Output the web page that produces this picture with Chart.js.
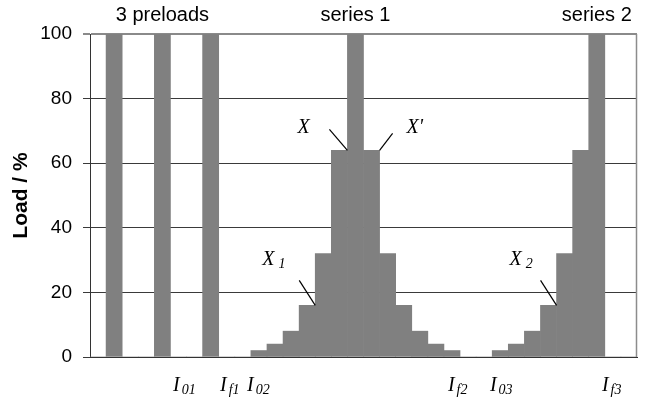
<!DOCTYPE html>
<html>
<head>
<meta charset="utf-8">
<script src="https://cdn.jsdelivr.net/npm/chart.js@4/dist/chart.umd.min.js"></script>
<style>
  html, body { margin: 0; padding: 0; background: #fff; }
  #wrap { width: 646px; height: 401px; }
</style>
</head>
<body>
<div id="wrap"><canvas id="grafico"></canvas></div>
<script>
// slot values (% load), one per slot along the x axis
const loadValues = [0, 100, 0, 0, 100, 0, 0, 100, 0, 0,
  2, 4, 8, 16, 32, 64, 100, 64, 32, 16, 8, 4, 2, 0, 0,
  2, 4, 8, 16, 32, 64, 100, 0, 0];
const slots = loadValues.map((v, i) => String(i));
const yTicks = [0, 20, 40, 60, 80, 100];

// group headers above the plot, at a slot index
const groupNames = ['3 preloads', 'series 1', 'series 2'];
const groupSlots = [4, 16, 31];

// current labels under the axis: main letter, subscript, slot position
const currentMain = ['I', 'I', 'I', 'I', 'I', 'I'];
const currentSub = ['01', 'f1', '02', 'f2', '03', 'f3'];
const currentAt = [4.66, 7.58, 9.26, 21.75, 24.36, 31.32];

// point names: text, subscript, slot whose right top corner is marked
const pointNames = ['X', "X'", 'X', 'X'];
const pointSubs = ['', '', '1', '2'];
const pointSlots = [15, 17, 13, 28];

(() => {
  const serif = '"Liberation Serif", "Times New Roman", serif';
  const sans = '"Liberation Sans", Arial, sans-serif';

  // pixel offsets of leader start and text, relative to the marked corner
  const leadOff = [[-18, -21], [13, -17], [-16, -25], [-16, -25]];
  const textOff = [[-50, -17], [27, -17], [-53, -40], [-47, -40]];

  const extras = {
    id: 'extras',
    afterDraw(chart) {
      const ctx = chart.ctx;
      const x = chart.scales.x;
      const y = chart.scales.y;
      const area = chart.chartArea;
      const half = x.width / slots.length / 2;
      ctx.save();

      // right frame
      ctx.strokeStyle = '#8c8c8c';
      ctx.lineWidth = 1.5;
      ctx.beginPath();
      ctx.moveTo(area.right - 0.5, area.top);
      ctx.lineTo(area.right - 0.5, area.bottom);
      ctx.stroke();

      // group headers
      ctx.fillStyle = '#000';
      ctx.font = '20px ' + sans;
      ctx.textAlign = 'center';
      ctx.textBaseline = 'alphabetic';
      groupNames.forEach((t, i) => {
        ctx.fillText(t, x.getPixelForValue(groupSlots[i]), 21);
      });

      // currents under the axis
      ctx.textAlign = 'left';
      currentMain.forEach((t, i) => {
        const px = x.getPixelForValue(currentAt[i]);
        ctx.font = 'italic 20px ' + serif;
        ctx.fillText(t, px, 391);
        const w = ctx.measureText(t).width;
        ctx.font = 'italic 14px ' + serif;
        ctx.fillText(currentSub[i], px + w + 2, 394);
      });

      // point names with leader lines
      ctx.strokeStyle = '#000';
      ctx.lineWidth = 1.2;
      pointNames.forEach((t, i) => {
        const s = pointSlots[i];
        const ax = x.getPixelForValue(s) + half;
        const ay = y.getPixelForValue(loadValues[s]);
        ctx.beginPath();
        ctx.moveTo(ax + leadOff[i][0], ay + leadOff[i][1]);
        ctx.lineTo(ax, ay);
        ctx.stroke();
        const tx = ax + textOff[i][0];
        const ty = ay + textOff[i][1];
        ctx.font = 'italic 20px ' + serif;
        ctx.fillText(t, tx, ty);
        if (pointSubs[i]) {
          const w = ctx.measureText(t).width;
          ctx.font = 'italic 14px ' + serif;
          ctx.fillText(pointSubs[i], tx + w + 4, ty + 3);
        }
      });
      ctx.restore();
    }
  };

  const graph = document.getElementById('grafico');
  new Chart(graph, {
    type: 'bar',
    data: {
      labels: slots,
      datasets: [{
        label: 'Load',
        data: loadValues,
        backgroundColor: '#808080',
        borderWidth: 0,
        barPercentage: 1,
        categoryPercentage: 1
      }]
    },
    options: {
      responsive: true,
      maintainAspectRatio: false,
      animation: false,
      layout: { padding: { top: 34, right: 9, bottom: 44, left: 0 } },
      plugins: {
        legend: { display: false },
        tooltip: { enabled: false }
      },
      scales: {
        x: {
          type: 'category',
          ticks: { display: false },
          grid: { display: false },
          border: { display: true, color: '#333', width: 1 },
          afterFit: (s) => { s.height = 0; }
        },
        y: {
          min: 0,
          max: 100,
          afterBuildTicks: (s) => { s.ticks = yTicks.map((v) => ({ value: v })); },
          ticks: {
            padding: 11,
            color: '#000',
            font: { family: sans, size: 19 }
          },
          grid: {
            color: (c) => (c.tick && c.tick.value === 100 ? '#8a8a8a' : '#3a3a3a'),
            lineWidth: (c) => (c.tick && c.tick.value === 100 ? 2 : 1),
            tickLength: 7
          },
          border: { display: true, color: '#333', width: 1 },
          title: {
            display: true,
            text: 'Load / %',
            color: '#000',
            font: { family: sans, size: 21, weight: 'bold' },
            padding: { top: 9, bottom: 0 }
          },
          afterFit: (s) => { s.width = 90; }
        }
      }
    },
    plugins: [extras]
  });
})();
</script>
</body>
</html>
